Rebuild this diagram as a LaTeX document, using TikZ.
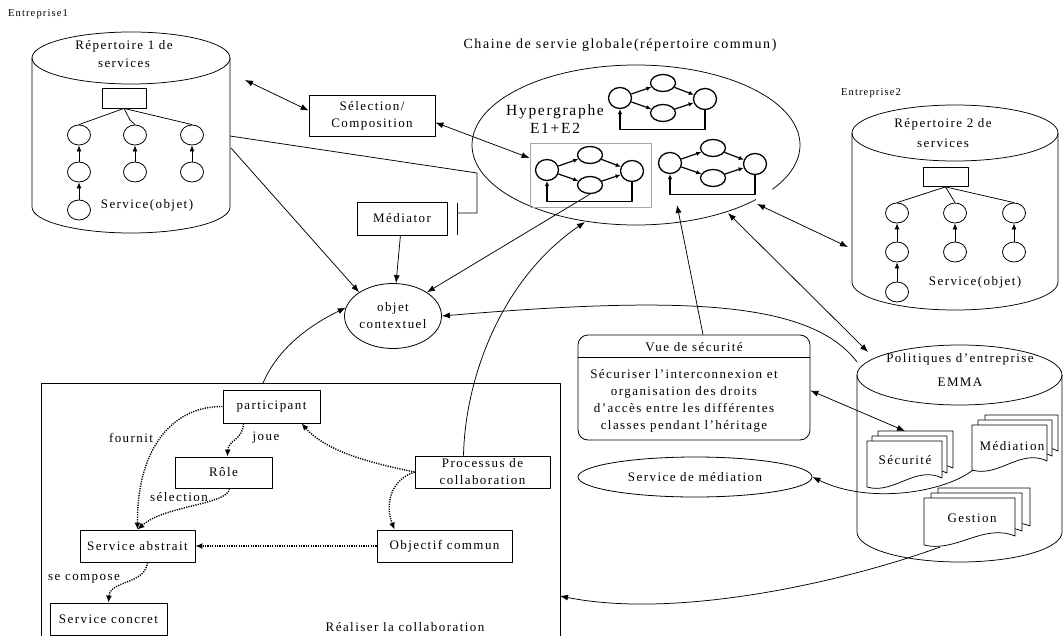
\documentclass[tikz,border=0pt]{standalone}
\usepackage{fontspec}
\setmainfont{Liberation Serif}[LetterSpace=11]
\usetikzlibrary{arrows.meta,shapes.geometric}
\newcommand{\sz}[2]{\fontsize{#1}{#2}\selectfont}
% one sheet of a document stack: left x, top y, right x, bottom-left y
\newcommand{\docpage}[4]{%
  \path[sheet] (#1,#2) -- (#3,#2) -- (#3,{#4-9})
    .. controls ({0.35*#1+0.65*#3},{#4-22}) and ({0.65*#1+0.35*#3},{#4+8}) .. (#1,#4) -- cycle;}

\tikzset{
  lbl/.style={inner sep=0pt, align=center, font=\sz{13}{17}},
  box/.style={draw, line width=0.8pt, inner sep=0pt, align=center, font=\sz{13}{17}},
  svc/.style={draw, ellipse, line width=0.8pt, inner sep=0pt, minimum width=23pt, minimum height=20pt},
  hend/.style={draw, ellipse, line width=1.3pt, inner sep=0pt, minimum width=23pt, minimum height=21pt},
  hmid/.style={draw, ellipse, line width=1.3pt, inner sep=0pt, minimum width=25pt, minimum height=17pt},
  harr/.style={line width=1.2pt, -{Latex[length=5pt,width=4.5pt]}},
  arr/.style={line width=0.75pt, -{Latex[length=8pt,width=6pt]}},
  barr/.style={line width=0.75pt, {Latex[length=8pt,width=6pt]}-{Latex[length=8pt,width=6pt]}},
  dotarr/.style={line width=1.4pt, dash pattern=on 1.2pt off 1.2pt, -{Latex[length=7pt,width=6pt]}},
  edge/.style={line width=0.75pt},
  sheet/.style={draw, fill=white, line width=0.75pt},
  svcarr/.style={line width=0.75pt, -{Latex[length=6pt,width=5pt]}},
  hgraph/.pic={
    \node[hend] (-l) at (0,0) {};
    \node[hmid] (-t) at (43,-15) {};
    \node[hmid] (-b) at (43,15) {};
    \node[hend] (-r) at (85,1) {};
    \draw[harr] (-l) -- (-t);
    \draw[harr] (-t) -- (-r);
    \draw[harr] (-l) -- (-b);
    \draw[harr] (-b) -- (-r);
    \draw[harr] (-r.south) -- ++(0,19) -| (-l.south);
  }
}

\begin{document}
\begin{tikzpicture}[x=1pt,y=-1pt,line join=round]
\useasboundingbox (0,0) rectangle (1064,636);
\clip (0,0) rectangle (1064,636);

% ---------- enterprise 1 repository ----------
\node[lbl, font=\sz{10.5}{12}] (ent1) at (38,14) {Entreprise1};
\draw[edge] (32,58) -- (32,207) arc[start angle=180, end angle=0, x radius=99, y radius=26] -- (230,58);
\draw[edge] (131,58) ellipse [x radius=99, y radius=26];
\node[lbl, font=\sz{13}{18}] (rep1) at (124,54) {Répertoire 1 de\\services};
\node[draw, line width=0.8pt, minimum width=44pt, minimum height=20pt, inner sep=0pt] (r1root) at (124,98) {};
\node[svc] (r1a1) at (79,135) {};
\node[svc] (r1a2) at (79,172) {};
\node[svc] (r1a3) at (79,210) {};
\node[svc] (r1b1) at (135,135) {};
\node[svc] (r1b2) at (135,172) {};
\node[svc] (r1c1) at (192,135) {};
\node[svc] (r1c2) at (192,172) {};
\draw[edge] (r1root.south) -- (r1a1.north);
\draw[edge] (r1root.south) -- (130,120) -- (r1b1.north);
\draw[edge] (r1root.south) -- (r1c1.north);
\draw[svcarr] (r1a3) -- (r1a2);
\draw[svcarr] (r1a2) -- (r1a1);
\draw[svcarr] (r1b2) -- (r1b1);
\draw[svcarr] (r1c2) -- (r1c1);
\node[lbl] (obj1) at (147,205) {Service(objet)};
\coordinate (c1a) at (245,80);
\coordinate (c1b) at (230,136);
\coordinate (c1c) at (231,148);

% ---------- enterprise 2 repository ----------
\node[lbl, font=\sz{10.5}{12}] (ent2) at (871,93) {Entreprise2};
\draw[edge] (852,133) -- (852,282) arc[start angle=180, end angle=0, x radius=103, y radius=28] -- (1058,133);
\draw[edge] (955,133) ellipse [x radius=103, y radius=28];
\node[lbl, font=\sz{13}{20}] (rep2) at (943,133) {Répertoire 2 de\\services};
\node[draw, line width=0.8pt, minimum width=45pt, minimum height=19pt, inner sep=0pt] (r2root) at (945.5,177) {};
\node[svc] (r2a1) at (897,213) {};
\node[svc] (r2a2) at (897,252) {};
\node[svc] (r2a3) at (897,292) {};
\node[svc] (r2b1) at (955,213) {};
\node[svc] (r2b2) at (955,252) {};
\node[svc] (r2c1) at (1014,213) {};
\node[svc] (r2c2) at (1014,252) {};
\draw[edge] (r2root.south) -- (r2a1.north);
\draw[edge] (r2root.south) -- (r2b1.north);
\draw[edge] (r2root.south) -- (r2c1.north);
\draw[svcarr] (r2a3) -- (r2a2);
\draw[svcarr] (r2a2) -- (r2a1);
\draw[svcarr] (r2b2) -- (r2b1);
\draw[svcarr] (r2c2) -- (r2c1);
\node[lbl] (obj2) at (975,282) {Service(objet)};
\coordinate (c2a) at (848,247);

% ---------- global service chain ----------
\node[lbl, font=\sz{14}{16}] (chain) at (620,45) {Chaine de servie globale(répertoire commun)};
\draw[edge] (636,145) ++(43:164 and 80) arc[start angle=43, end angle=393.7, x radius=164, y radius=80];
\node[lbl, font=\sz{15.5}{18}] (hyper) at (555,119) {Hypergraphe\\E1+E2};
\pic (hA) at (620,98) {hgraph};
\node[draw=gray!70, line width=0.9pt, minimum width=121pt, minimum height=64pt, inner sep=0pt] (hbox) at (590.5,175) {};
\pic (hB) at (547,170) {hgraph};
\pic (hC) at (670,163) {hgraph};
\coordinate (chB) at (585,222);
\coordinate (chP) at (728,213);
\coordinate (chE) at (757,204);
\coordinate (chV) at (677,205);

% ---------- selection, mediator, contextual object ----------
\node[box, minimum width=126pt, minimum height=41pt] (sel) at (372,115.5) {Sélection/\\Composition};
\node[box, minimum width=90pt, minimum height=33pt] (med) at (402,218.5) {Médiator};
\coordinate (tbar) at (457,213);
\node[draw, ellipse, line width=0.8pt, minimum width=97pt, minimum height=65pt, inner sep=0pt, align=center, font=\sz{13}{17}] (oc) at (393,316) {objet\\contextuel};

% ---------- enterprise policies ----------
\draw[edge] (857,375) -- (857,532) arc[start angle=180, end angle=0, x radius=102.5, y radius=30] -- (1062,375);
\draw[edge] (959.5,375) ellipse [x radius=102.5, y radius=30];
\node[lbl, font=\sz{13}{24}] (pol) at (960,370) {Politiques d'entreprise\\EMMA};
\coordinate (polA) at (868,352);
\coordinate (polL) at (857,362);
\docpage{878}{431}{953}{477}
\docpage{872}{436}{947}{482}
\docpage{867}{441}{942}{487}
\node[lbl] (secu) at (905,460) {Sécurité};
\docpage{985}{415}{1058}{460}
\docpage{978}{420}{1052}{465}
\docpage{972}{425}{1047}{470}
\node[lbl] (medi) at (1012,446) {Médiation};
\docpage{938}{488}{1030}{535}
\docpage{931}{493}{1022}{540}
\docpage{924}{498}{1015}{545}
\node[lbl] (gest) at (972,518) {Gestion};
\coordinate (secuTop) at (905,431);
\coordinate (mediBot) at (973,470);
\coordinate (gestBot) at (940,547);

% ---------- security view and mediation service ----------
\node[draw, rounded corners=10pt, line width=0.8pt, minimum width=232pt, minimum height=105pt, inner sep=0pt] (vue) at (694,387.5) {};
\draw[edge] ([yshift=-23pt]vue.north west) -- ([yshift=-23pt]vue.north east);
\node[lbl] (vuet) at (694,347) {Vue de sécurité};
\node[lbl, font=\sz{13}{16.8}] (vueb) at (684,401) {Sécuriser l’interconnexion et\\organisation des droits\\d’accès entre les différentes\\classes pendant l’héritage};
\node[draw, ellipse, line width=0.8pt, minimum width=234pt, minimum height=40pt, inner sep=0pt, font=\sz{13}{17}] (smed) at (695,477) {Service de médiation};

% ---------- collaboration frame ----------
\draw[edge] (41,645) -- (41,383) -- (560,383) -- (560,645);
\coordinate (collabTop) at (263,383);
\coordinate (collabR) at (560,596);
\node[box, minimum width=97pt, minimum height=33pt] (part) at (271.5,406.5) {participant};
\node[box, minimum width=97pt, minimum height=31pt] (role) at (223.5,472.5) {Rôle};
\node[box, minimum width=115pt, minimum height=32pt] (sabs) at (137.5,546) {Service abstrait};
\node[box, minimum width=117pt, minimum height=32pt] (scon) at (108.5,619) {Service concret};
\node[box, minimum width=135pt, minimum height=32pt] (proc) at (482.5,472) {Processus de\\collaboration};
\node[box, minimum width=135pt, minimum height=32pt] (obj) at (444.5,546) {Objectif commun};
\node[lbl] (lfour) at (131,438) {fournit};
\node[lbl] (ljoue) at (266,438) {joue};
\node[lbl] (lsel) at (179,497) {sélection};
\node[lbl] (lcomp) at (84,579) {se compose};
\node[lbl] (lreal) at (405,627) {Réaliser la collaboration};

% ---------- connectors ----------
\draw[barr] (c1a) -- ([yshift=5pt]sel.west);
\draw[barr] ([yshift=-7pt]sel.east) -- ([yshift=17pt]hbox.west);
\draw[edge] (c1b) -- (477,173) -- (477,213) -- (tbar);
\draw[edge] (457,203) -- (457,235);
\draw[arr] (c1c) -- (oc.145);
\draw[arr] (med) -- (oc);
\draw[arr] (hB-b.south) -- (oc.35);
\draw[arr] (polL) .. controls (810,300) and (680,296) .. (oc.east);
\draw[arr] (collabTop) .. controls (275,355) and (300,330) .. (oc.170);
\draw[arr] ([xshift=-19pt]proc.north) .. controls (465,380) and (500,280) .. (chB);
\draw[arr] ([xshift=9pt]vue.north) -- (chV);
\draw[barr] (chP) -- (polA);
\draw[barr] (chE) -- (c2a);
\draw[barr] ([yshift=-3pt]vue.east) -- (secuTop);
\draw[arr] (mediBot) .. controls (945,492) and (870,505) .. (smed.east);
\draw[arr] (gestBot) .. controls (850,580) and (680,620) .. (collabR);

\draw[dotarr] (part.west) .. controls (175,406) and (137,445) .. (sabs.north);
\draw[dotarr] ([xshift=-28pt]part.south) .. controls (243,440) and (228,440) .. ([xshift=4pt]role.north);
\draw[dotarr] ([xshift=6pt]role.south) .. controls (228,505) and (165,505) .. (sabs.north);
\draw[dotarr] ([xshift=10pt]sabs.south) .. controls (145,585) and (110,580) .. (scon.north);
\draw[dotarr] (proc.west) .. controls (365,462) and (325,450) .. ([xshift=30pt]part.south);
\draw[dotarr] (proc.west) .. controls (390,480) and (385,505) .. ([xshift=-50pt]obj.north);
\draw[dotarr] (obj.west) -- (sabs.east);
\end{tikzpicture}
\end{document}
